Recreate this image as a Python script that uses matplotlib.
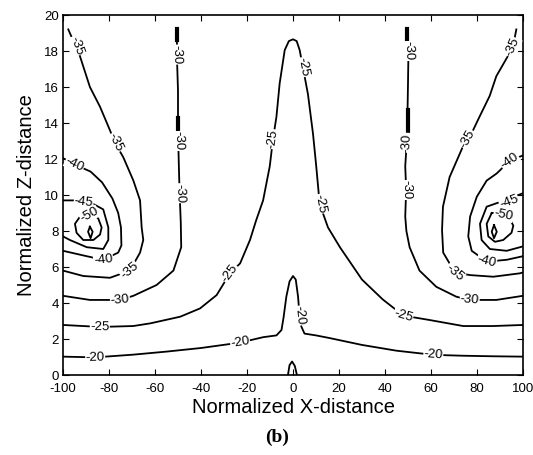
import numpy as np
import matplotlib
matplotlib.use('Agg')
import matplotlib.pyplot as plt

plt.rcParams['font.family'] = ['Liberation Sans', 'DejaVu Sans']
plt.rcParams['axes.unicode_minus'] = False

# contour lines: (x, z) points per line
c15_x = [-2.2, -1.5, -0.4, 0.8, 1.7]
c15_z = [0.0, 0.55, 0.75, 0.5, 0.0]

c20_x = [-100, -86, -69.5, -55, -40, -23, -13, -7.2, -5, -4.1, -2.9, -1.5, 0, 1.2, 2.2, 2.9, 3.6, 5, 10, 16, 30, 45, 61, 74, 87, 100]
c20_z = [1.02, 0.98, 1.13, 1.3, 1.5, 1.8, 2.1, 2.2, 2.5, 3.2, 4.35, 5.2, 5.5, 5.3, 4.35, 3.2, 2.7, 2.3, 2.2, 2.05, 1.67, 1.35, 1.12, 1.07, 1.04, 1.02]

c25_x = [-100, -84, -69.5, -62, -49, -40.4, -33.2, -27.4, -23, -18.7, -16, -13, -10.1, -8.7, -7.2, -5.8, -3.6, -1.8, 0, 1.6, 2.9, 4.3, 6.5, 8.7, 10.1, 11.6, 15.2, 20.4, 30, 39, 45, 48, 59.6, 74, 87, 100]
c25_z = [2.78, 2.67, 2.72, 2.87, 3.24, 3.7, 4.44, 5.65, 6.2, 7.5, 8.6, 9.7, 11.6, 13.1, 14.35, 16.2, 18.05, 18.55, 18.65, 18.55, 18.05, 17.1, 15.6, 13.4, 11.6, 9.5, 8.2, 7.1, 5.3, 4.2, 3.6, 3.3, 3.05, 2.72, 2.72, 2.78]

c30a_x = [-50.4, -50.5, -50, -50, -49.9, -49.6, -49.3, -48.8, -48.6, -52, -59.3, -69.4, -75.2, -88.3, -100]
c30a_z = [19.2, 17.8, 15.8, 14.3, 13.0, 11.5, 10.1, 8.5, 7.1, 5.8, 5.0, 4.4, 4.17, 4.17, 4.4]
c30b_x = [49.6, 50.2, 50, 49.8, 49.6, 48.8, 49.2, 48.8, 49.3, 50.7, 55, 62.3, 71, 76.8, 88.4, 100]
c30b_z = [19.2, 18.0, 16.2, 14.7, 13.2, 11.6, 10.3, 8.8, 8.0, 7.1, 5.8, 4.9, 4.35, 4.17, 4.17, 4.4]

c35a_x = [-97.7, -92.6, -88.3, -83.9, -79.6, -77.4, -73.8, -69.4, -66.5, -65.8, -65.1, -66.5, -70.9, -79.6, -91.2, -100]
c35a_z = [19.2, 17.7, 16.0, 14.9, 13.6, 12.9, 12.1, 10.8, 9.7, 8.2, 7.5, 6.8, 5.8, 5.4, 5.5, 5.8]
c35b_x = [97.1, 95.6, 88.4, 85.5, 81.1, 76.8, 73.9, 68.1, 65.2, 64.8, 65.3, 70.4, 77, 87.1, 98.7, 100]
c35b_z = [19.2, 18.2, 16.6, 15.5, 14.35, 13.2, 12.7, 11.0, 9.35, 8.05, 6.8, 5.7, 5.55, 5.46, 5.65, 5.7]

c40a_x = [-100, -95, -88, -83, -78.5, -76, -74.8, -74.6, -76, -82.5, -89.7, -100]
c40a_z = [12.05, 11.7, 11.3, 10.7, 9.8, 9.0, 8.2, 7.2, 6.8, 6.4, 6.6, 6.9]
c40b_x = [100, 94.2, 88.6, 84.2, 79.9, 77, 76.2, 77.7, 84.2, 92.9, 100]
c40b_z = [12.2, 11.9, 11.2, 10.8, 9.9, 8.8, 7.7, 6.9, 6.3, 6.4, 6.6]

c45a_x = [-100, -92.6, -86.8, -82.5, -80.3, -80.3, -82.5, -89.7, -97, -100]
c45a_z = [9.7, 9.7, 9.5, 9.2, 8.2, 7.5, 7.0, 7.1, 7.5, 7.7]
c45b_x = [100, 92, 84.2, 81.3, 82, 85.6, 92.9, 98.7, 100]
c45b_z = [10.1, 9.7, 9.35, 8.4, 7.5, 7.0, 6.9, 7.1, 7.15]

c50a_x = [-89.7, -92.6, -94.8, -94.1, -91.2, -86.8, -83.9, -83.2, -84.7, -86.8, -89.7]
c50a_z = [9.0, 8.8, 8.4, 7.9, 7.5, 7.5, 7.8, 8.2, 8.7, 8.9, 9.0]
c50b_x = [86.4, 84.2, 84.9, 87.8, 91.4, 95, 95.8, 93.6, 90, 86.4]
c50b_z = [9.0, 8.4, 7.7, 7.4, 7.5, 7.9, 8.3, 8.8, 9.0, 9.0]

c55a_x = [-88.3, -87.1, -88, -89.1, -88.3]
c55a_z = [8.24, 7.96, 7.6, 7.96, 8.24]
c55b_x = [87.4, 88.6, 87.4, 86.4, 87.4]
c55b_z = [8.33, 7.96, 7.6, 7.96, 8.33]

# thick bits on the vertical -30 lines
thick_x = [[-50.3, -50.3], [-50.1, -50.1], [49.6, 49.6], [49.8, 49.8]]
thick_z = [[18.6, 19.2], [13.1, 14.3], [18.6, 19.2], [13.2, 14.7]]

lines = [(c15_x, c15_z), (c20_x, c20_z), (c25_x, c25_z), (c30a_x, c30a_z), (c30b_x, c30b_z),
         (c35a_x, c35a_z), (c35b_x, c35b_z), (c40a_x, c40a_z), (c40b_x, c40b_z),
         (c45a_x, c45a_z), (c45b_x, c45b_z), (c50a_x, c50a_z), (c50b_x, c50b_z),
         (c55a_x, c55a_z), (c55b_x, c55b_z)]

# inline labels: text, x, z, line it sits on
label_text = ['-20', '-20', '-20', '-20',
              '-25', '-25', '-25', '-25', '-25', '-25',
              '-30', '-30', '-30', '-30', '-30', '-30', '-30', '-30',
              '-35', '-35', '-35', '-35', '-35', '-35',
              '-40', '-40', '-40', '-40',
              '-45', '-45', '-50', '-50']
label_x = [-86, -23, 2.9, 61,
           -84, -27.4, -8.7, 4.3, 11.6, 48,
           -50.5, -49.9, -49.3, -75.2, 50.2, 49.6, 49.2, 76.8,
           -94, -77.4, -71, 95.6, 76, 70.4,
           -95, -82.5, 94.2, 84.2,
           -91, 94, -88.5, 91.5]
label_z = [0.98, 1.8, 3.3, 1.12,
           2.67, 5.65, 13.1, 17.1, 9.5, 3.3,
           17.8, 13.0, 10.1, 4.17, 18.0, 12.9, 10.3, 4.17,
           18.3, 12.9, 5.8, 18.2, 13.1, 5.7,
           11.7, 6.4, 11.9, 6.3,
           9.6, 9.6, 8.9, 8.9]
label_line = [1, 1, 1, 1,
              2, 2, 2, 2, 2, 2,
              3, 3, 3, 3, 4, 4, 4, 4,
              5, 5, 5, 6, 6, 6,
              7, 7, 8, 8,
              9, 10, 11, 12]

x_ticks = np.arange(-100, 101, 20)
z_ticks = np.arange(0, 21, 2)

fig = plt.figure(figsize=(5.33, 4.55), dpi=100)
ax = fig.add_axes([63 / 533, 80 / 455, 460 / 533, 360 / 455])

for lx, lz in lines:
    ax.plot(lx, lz, color='black', lw=1.3)
for tx, tz in zip(thick_x, thick_z):
    ax.plot(tx, tz, color='black', lw=3)

ax.set_xlim(-100, 100)
ax.set_ylim(0, 20)

for t, x, z, k in zip(label_text, label_x, label_z, label_line):
    pts = ax.transData.transform(np.column_stack([lines[k][0], lines[k][1]]))
    p = ax.transData.transform((x, z))
    i = np.argmin(np.hypot(pts[:, 0] - p[0], pts[:, 1] - p[1]))
    i0, i1 = max(i - 1, 0), min(i + 1, len(pts) - 1)
    d = pts[i1] - pts[i0]
    ang = np.degrees(np.arctan2(d[1], d[0]))
    if ang > 90:
        ang -= 180
    if ang < -90:
        ang += 180
    ax.text(x, z, t, fontsize=9.5, rotation=ang, rotation_mode='anchor',
            ha='center', va='center',
            bbox=dict(facecolor='white', edgecolor='none', pad=0.3))

ax.set_xticks(x_ticks)
ax.set_yticks(z_ticks)
ax.tick_params(direction='in', top=True, right=True, length=4, width=0.8, labelsize=9.5)
ax.tick_params(axis='x', pad=6)
ax.tick_params(axis='y', pad=3)
for s in ax.spines.values():
    s.set_linewidth(1.2)

ax.set_xlabel('Normalized X-distance', fontsize=14.5, labelpad=2)
ax.set_ylabel('Normalized Z-distance', fontsize=14.5, labelpad=6)
fig.text(277 / 533, 1 - 437 / 455, '(b)', fontsize=14, fontweight='bold',
         family='Liberation Serif', ha='center', va='center')

plt.savefig('out.png', dpi=100)
